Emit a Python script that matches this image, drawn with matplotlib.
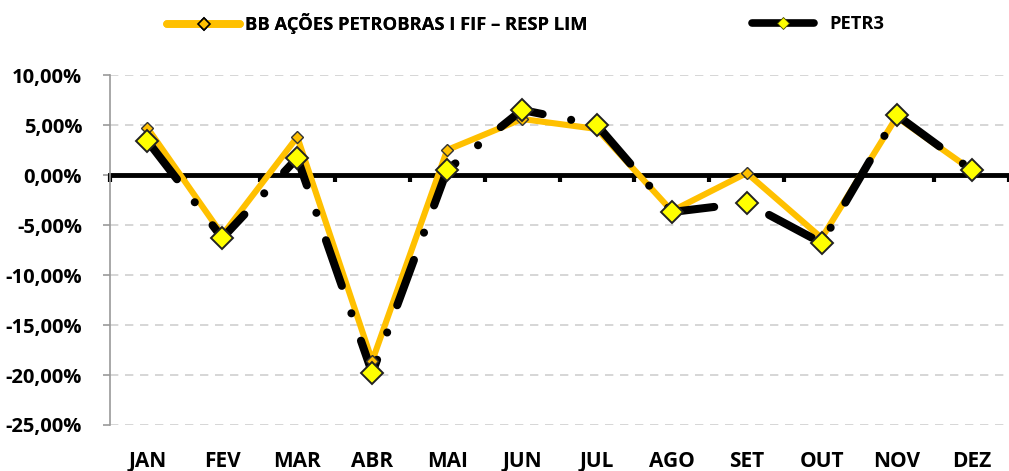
import matplotlib
matplotlib.use("Agg")
import matplotlib.pyplot as plt
from matplotlib.lines import Line2D
from matplotlib.ticker import FuncFormatter, FixedLocator, NullFormatter

months = ["JAN", "FEV", "MAR", "ABR", "MAI", "JUN", "JUL", "AGO", "SET", "OUT", "NOV", "DEZ"]
bb_fund = [4.7, -6.0, 3.8, -18.6, 2.5, 5.6, 4.6, -3.6, 0.2, -6.3, 5.8, 0.5]
petr3 = [3.4, -6.3, 1.7, -19.8, 0.5, 6.5, 5.0, -3.7, -2.8, -6.8, 6.0, 0.5]
yticks = [10, 5, 0, -5, -10, -15, -20, -25]

label_bb = "BB AÇÕES PETROBRAS I FIF – RESP LIM"
label_petr = "PETR3"

plt.rcParams['font.family'] = ['Open Sans', 'DejaVu Sans']
plt.rcParams['font.weight'] = 'bold'

fig = plt.figure(figsize=(10.09, 4.71), dpi=100)
ax = fig.add_axes([110/1009, 46/471, 899/1009, 350/471])

x = list(range(len(months)))
orange = "#FFC000"
yellow = "#FFFF00"

ax.plot(x, bb_fund, color=orange, lw=4.4, zorder=3, solid_joinstyle='round',
        solid_capstyle='round')
ax.plot(x, petr3, color='black', lw=5.8, zorder=4,
        linestyle=(0, (6.0, 3.6, 0.01, 3.6)), dash_capstyle='round')
ax.plot(x, bb_fund, linestyle='none', marker='D', markersize=6.3, markerfacecolor=orange,
        markeredgecolor='#333333', markeredgewidth=1.0, zorder=5)
ax.plot(x, petr3, linestyle='none', marker='D', markersize=11, markerfacecolor=yellow,
        markeredgecolor='#222222', markeredgewidth=1.4, zorder=6)

ax.set_xlim(-0.5, len(months) - 0.5)
ax.set_ylim(-25, 10)
ax.set_yticks(yticks)
ax.yaxis.set_major_formatter(FuncFormatter(lambda v, p: f"{v:.2f}%".replace('.', ',')))
ax.yaxis.grid(True, color='#D0D0D0', linestyle=(0, (5, 4)), linewidth=1.2)
ax.set_axisbelow(True)

for s in ['top', 'right']:
    ax.spines[s].set_visible(False)
ax.spines['left'].set_color('#999999')
ax.spines['left'].set_linewidth(1.2)
ax.spines['bottom'].set_position(('data', 0))
ax.spines['bottom'].set_color('black')
ax.spines['bottom'].set_linewidth(3.5)
ax.spines['bottom'].set_zorder(2)

ax.tick_params(axis='y', length=5, width=1.2, color='#999999', labelsize=14.5, pad=15)
ax.xaxis.set_major_locator(FixedLocator(x))
ax.xaxis.set_major_formatter(NullFormatter())
ax.xaxis.set_minor_locator(FixedLocator([i + 0.5 for i in range(-1, len(months))]))
ax.tick_params(axis='x', which='major', length=0)
ax.tick_params(axis='x', which='minor', length=5, width=3, color='black', direction='out')

sec = ax.secondary_xaxis('bottom')
sec.set_xticks(x)
sec.set_xticklabels(months)
sec.tick_params(length=0, labelsize=15, pad=19)
sec.spines['bottom'].set_visible(False)

for lab in ax.get_yticklabels() + sec.get_xticklabels():
    lab.set_fontweight('bold')

h1 = Line2D([], [], color=orange, lw=5.5, solid_capstyle='round', marker='D', markersize=6,
            markerfacecolor=orange, markeredgecolor='black', markeredgewidth=1.2)
h2 = Line2D([], [], color='black', lw=5.5, solid_capstyle='round', marker='D', markersize=6,
            markerfacecolor=yellow, markeredgecolor='#444400', markeredgewidth=0.6)

prop = {'weight': 'bold', 'size': 13.2}
leg1 = fig.legend([h1], [label_bb], loc='center left', bbox_to_anchor=(167/1009, 1 - 24/471),
                  frameon=False, handlelength=4.0, handletextpad=0.25, borderpad=0,
                  borderaxespad=0, prop=prop)
leg2 = fig.legend([h2], [label_petr], loc='center left', bbox_to_anchor=(752/1009, 1 - 24/471),
                  frameon=False, handlelength=3.4, handletextpad=0.8, borderpad=0,
                  borderaxespad=0, prop=prop)
fig.add_artist(leg1)

fig.savefig("out.png", dpi=100)
